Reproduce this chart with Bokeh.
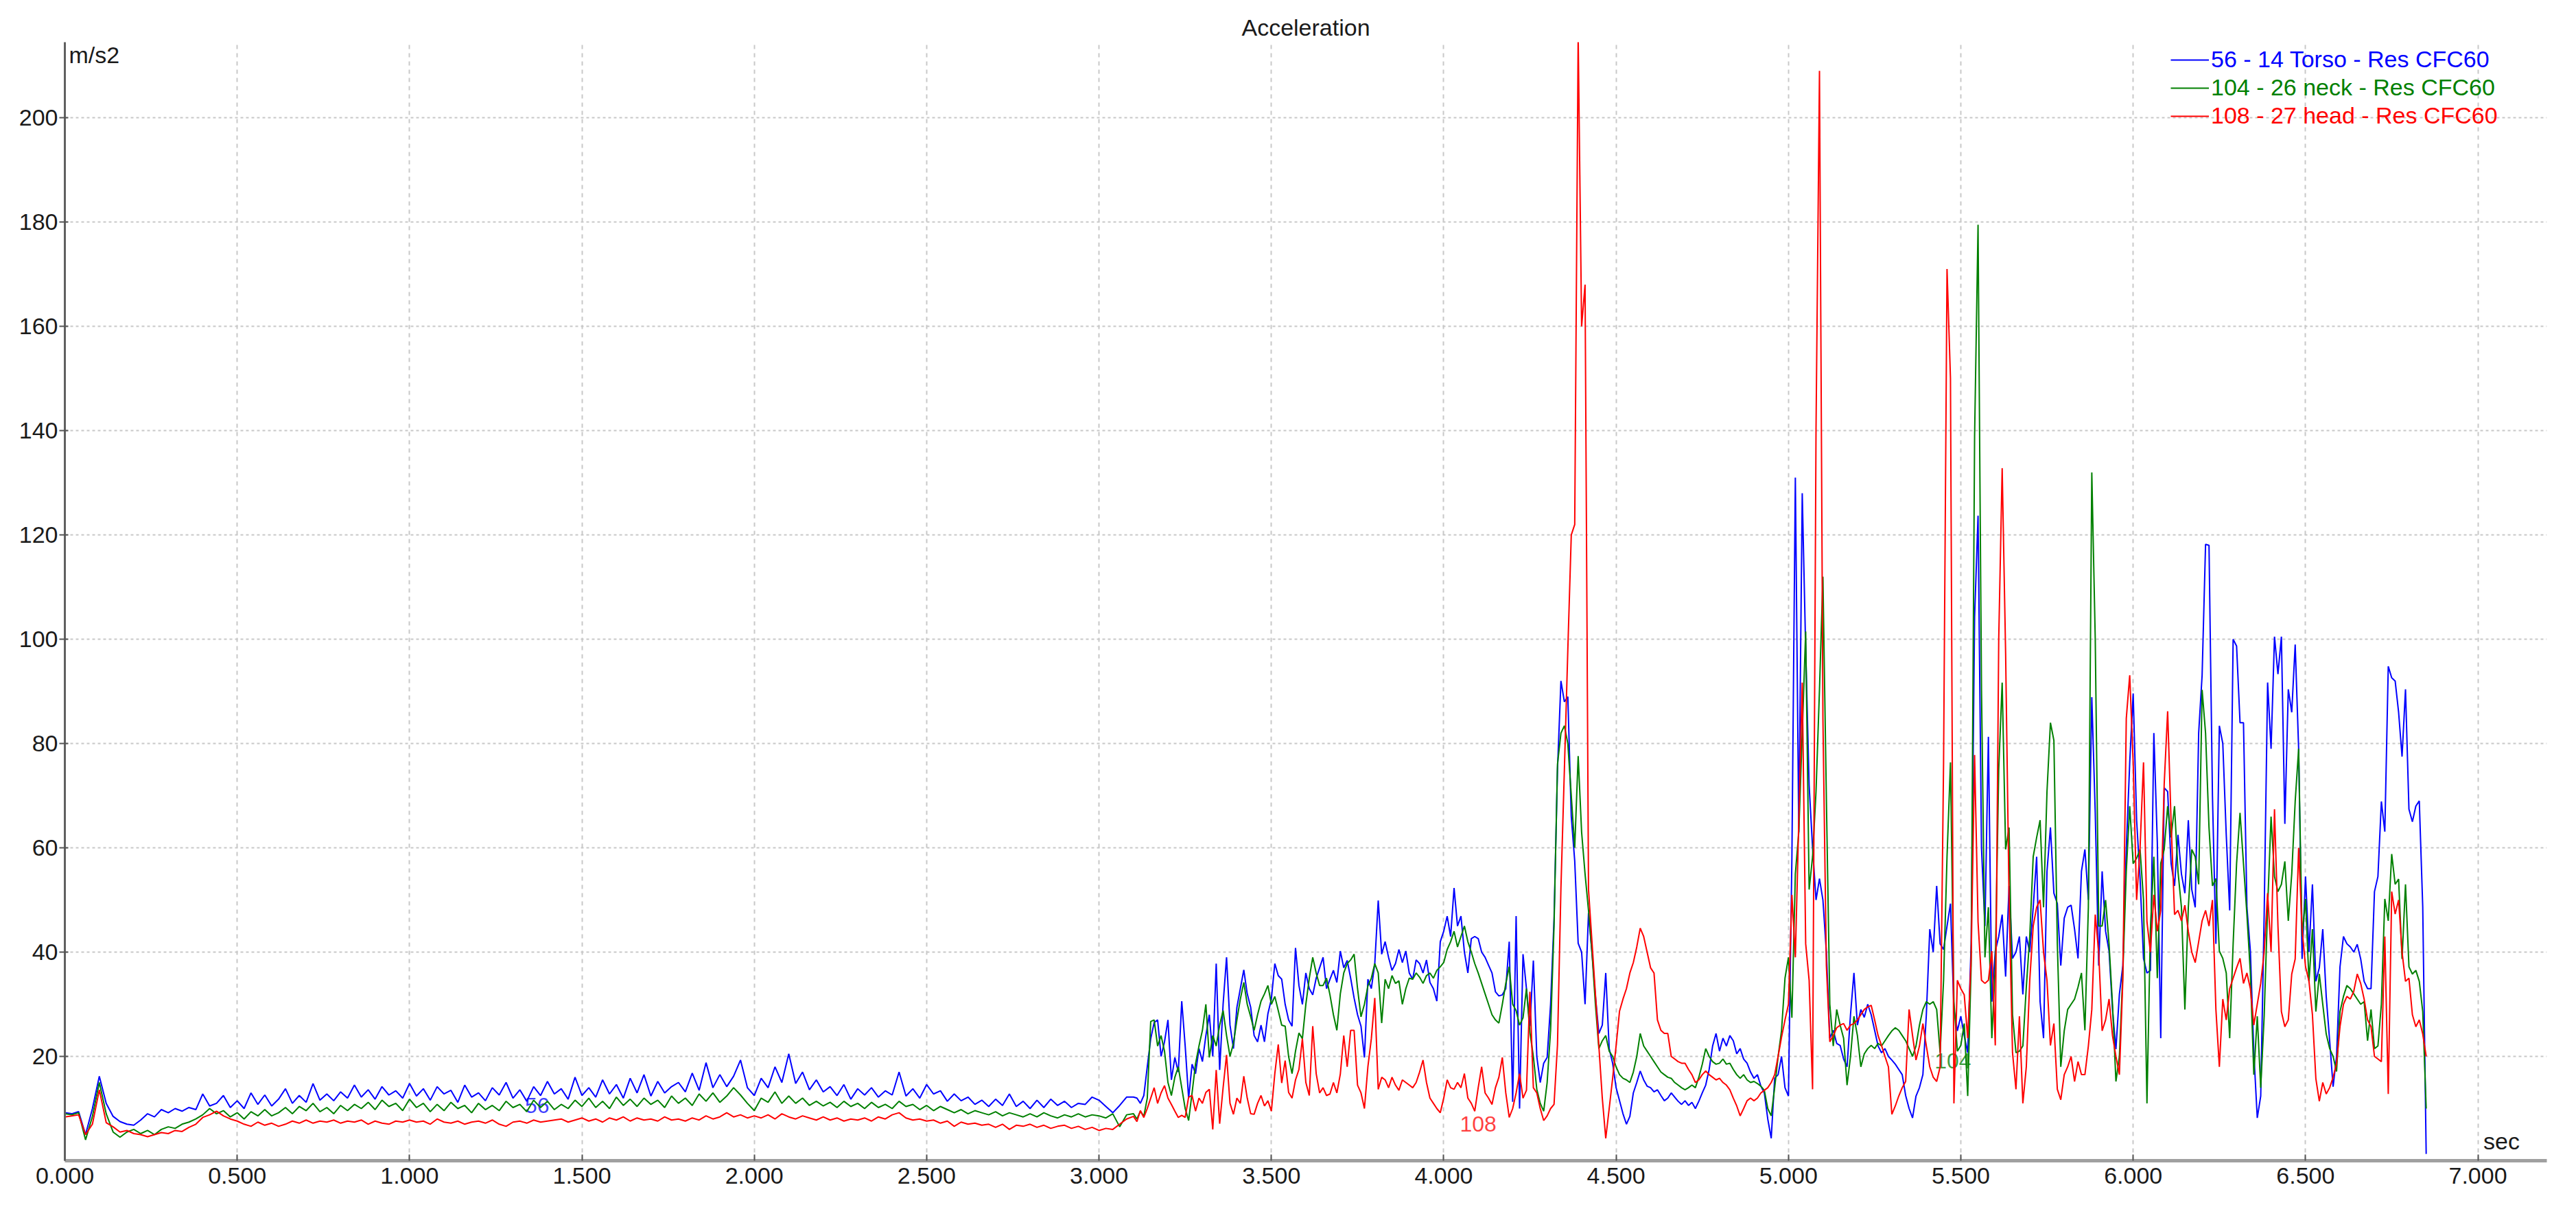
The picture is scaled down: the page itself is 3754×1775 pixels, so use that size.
import numpy as np
from bokeh.plotting import figure
from bokeh.models import (Range1d, FixedTicker, NumeralTickFormatter, Legend,
                          LegendItem, Label)
from bokeh.embed import file_html
from bokeh.resources import INLINE

# series names (legend)
name_blue = "56 - 14 Torso - Res CFC60"
name_green = "104 - 26 neck - Res CFC60"
name_red = "108 - 27 head - Res CFC60"

# 0.000 .. 3.080 s, one value every 0.02 s (m/s2)
blue_quiet = [
    9.2, 9.0, 9.4, 5.0, 10.0, 16.2, 11.0, 8.5, 7.5, 7.0,
    6.8, 7.8, 9.0, 8.4, 9.8, 9.2, 10.0, 9.5, 10.2, 9.8,
    12.8, 10.5, 11.0, 12.5, 10.2, 11.5, 10.0, 13.0, 10.8, 12.6,
    10.5, 11.8, 13.8, 11.0, 12.5, 11.2, 14.8, 11.6, 12.8, 11.5,
    13.2, 12.0, 14.5, 12.2, 13.6, 11.8, 14.2, 12.6, 13.4, 12.0,
    14.8, 12.4, 13.8, 11.6, 14.2, 12.8, 13.5, 11.2, 14.5, 12.2,
    13.0, 11.5, 14.0, 12.6, 15.0, 12.0, 13.6, 11.4, 14.2, 12.5,
    15.2, 12.8, 13.8, 11.8, 16.0, 12.5, 14.0, 12.2, 15.5, 12.8,
    14.6, 12.0, 15.8, 13.0, 16.5, 12.4, 15.2, 13.0, 14.2, 15.0,
    13.2, 16.8, 13.5, 18.8, 14.0, 16.5, 14.2, 16.2, 19.3, 14.0,
    12.5, 15.8, 14.0, 18.0, 15.0, 20.5, 14.8, 17.0, 13.6, 15.5,
    13.2, 14.2, 12.5, 14.6, 11.8, 13.8, 12.6, 14.0, 12.2, 13.4,
    12.6, 17.0, 12.4, 13.8, 12.0, 14.6, 12.8, 13.4, 11.4, 12.8,
    11.5, 12.2, 10.8, 11.6, 10.4, 11.8, 10.6, 12.8, 10.4, 11.4,
    10.0, 11.6, 10.2, 11.8, 10.6, 11.4, 10.2, 11.0, 10.8, 12.2,
    11.6, 10.4, 9.2, 10.6, 12.2,
]
green_quiet = [
    9.0, 8.8, 9.2, 4.0, 8.5, 15.0, 9.0, 5.5, 4.5, 5.5,
    6.0, 5.2, 5.8, 5.0, 6.0, 6.5, 6.2, 7.0, 7.4, 8.0,
    8.8, 10.0, 9.0, 9.6, 8.4, 9.2, 8.0, 9.4, 8.6, 9.8,
    8.6, 9.2, 10.2, 9.0, 10.4, 9.6, 11.0, 9.4, 10.2, 9.0,
    10.6, 9.6, 10.8, 10.0, 11.2, 9.8, 11.6, 10.4, 11.0, 9.6,
    11.8, 10.2, 11.0, 9.4, 10.8, 9.6, 11.2, 10.0, 10.6, 9.2,
    11.0, 9.8, 10.6, 9.6, 11.4, 10.2, 10.8, 9.4, 11.6, 10.2,
    11.4, 9.8, 10.8, 10.0, 11.6, 10.4, 12.0, 10.2, 11.4, 10.0,
    12.2, 10.6, 11.8, 10.4, 12.0, 10.8, 11.6, 10.2, 12.4, 11.0,
    12.0, 10.6, 12.8, 11.4, 13.0, 11.2, 12.4, 14.0, 12.6, 11.0,
    9.6, 12.0, 11.2, 13.2, 11.0, 12.4, 11.0, 12.0, 10.6, 11.4,
    10.5, 11.2, 10.2, 11.4, 10.4, 11.0, 10.0, 11.2, 10.2, 10.8,
    10.0, 11.4, 10.4, 10.8, 9.8, 10.6, 9.6, 10.4, 9.8, 9.2,
    9.8, 9.0, 9.6, 9.2, 8.8, 9.4, 8.6, 9.2, 8.8, 8.4,
    9.0, 8.4, 9.2, 8.6, 8.2, 8.8, 8.4, 9.0, 8.4, 8.8,
    8.6, 8.2, 9.0, 6.5, 8.8,
]
red_quiet = [
    8.4, 8.6, 8.8, 5.0, 7.0, 13.6, 7.3, 6.5, 5.5, 5.8,
    5.2, 5.0, 4.6, 5.0, 5.4, 5.2, 5.8, 5.6, 6.4, 7.0,
    8.3, 8.8, 9.5, 8.6, 8.0, 7.6, 7.0, 6.6, 7.4, 6.8,
    7.2, 6.6, 7.0, 7.6, 7.2, 7.8, 7.2, 7.6, 7.4, 7.8,
    7.2, 7.6, 7.4, 7.8, 7.0, 7.6, 7.2, 7.0, 7.6, 7.4,
    7.8, 7.4, 7.6, 7.0, 8.0, 7.4, 7.2, 7.6, 7.0, 7.4,
    7.6, 7.2, 7.8, 7.0, 6.6, 7.4, 7.6, 7.2, 7.8, 7.4,
    7.6, 7.8, 8.0, 7.4, 7.8, 8.2, 7.6, 8.0, 7.4, 8.2,
    7.8, 8.4, 7.6, 8.2, 7.8, 8.0, 7.6, 8.4, 7.8, 8.0,
    7.6, 8.2, 7.8, 8.6, 8.0, 8.4, 9.2, 8.4, 8.8, 8.2,
    8.6, 8.2, 8.8, 8.0, 9.0, 8.4, 8.0, 8.6, 8.2, 7.8,
    8.4, 7.8, 8.2, 7.6, 8.0, 7.8, 8.2, 7.6, 8.4, 8.0,
    8.8, 9.2, 8.2, 7.8, 8.0, 7.6, 7.8, 7.2, 7.6, 6.6,
    7.4, 7.0, 7.2, 6.8, 7.0, 6.4, 7.0, 6.0, 6.8, 6.6,
    7.0, 6.4, 6.8, 6.2, 6.6, 6.8, 6.2, 6.6, 6.0, 6.4,
    5.8, 6.2, 6.0, 7.0, 8.0,
]

# 3.10 .. 6.85 s, one value every 0.01 s (m/s2)
blue_active = [
    12.2, 12.0, 11.0, 12.5, 18.0, 23.4, 26.5, 27.0, 20.0, 22.8,
    27.0, 15.5, 19.8, 17.0, 30.6, 22.0, 12.0, 18.5, 16.7, 21.5,
    19.0, 24.0, 28.0, 20.0, 37.8, 17.4, 30.0, 39.0, 26.0, 21.5,
    29.4, 33.0, 36.6, 32.0, 29.4, 24.0, 22.8, 26.0, 22.8, 28.2,
    31.0, 37.8, 35.5, 34.8, 30.0, 27.0, 25.8, 40.8, 33.6, 30.0,
    36.0, 33.0, 31.8, 35.0, 37.0, 39.0, 33.0, 34.8, 36.5, 34.2,
    40.2, 37.0, 38.4, 35.0, 31.2, 28.0, 25.8, 19.8, 34.8, 33.0,
    37.8, 49.9, 39.6, 42.0, 39.0, 36.5, 37.8, 40.5, 38.0, 40.2,
    36.0, 34.8, 38.5, 37.8, 36.0, 38.5, 34.2, 33.0, 30.6, 42.0,
    44.0, 46.9, 43.0, 52.3, 45.0, 46.9, 40.0, 36.0, 42.6, 43.0,
    42.6, 40.0, 39.0, 37.5, 36.0, 32.4, 31.6, 31.8, 33.0, 42.0,
    11.3, 46.9, 10.0, 39.6, 33.0, 25.8, 38.4, 20.0, 15.0, 18.7,
    19.8, 30.0, 46.3, 75.0, 92.0, 88.0, 89.0, 66.0, 57.5, 41.7,
    40.0, 30.0, 47.5, 40.0, 31.6, 24.4, 26.0, 36.0, 21.5, 18.7,
    14.0, 11.5, 9.0, 7.0, 8.5, 13.0, 15.0, 17.2, 15.5, 14.3,
    14.0, 13.2, 13.6, 12.5, 11.5, 12.0, 13.0, 12.2, 11.4, 10.8,
    11.5, 10.6, 11.2, 10.0, 11.4, 13.0, 14.5, 17.5, 22.0, 24.4,
    21.0, 23.5, 22.0, 24.0, 23.0, 20.5, 21.5, 19.5, 18.7, 17.0,
    15.8, 16.5, 14.3, 13.0, 8.0, 4.3, 15.8, 16.5, 20.0, 14.0,
    12.4, 58.0, 131.0, 63.0, 128.0, 98.0, 72.0, 60.0, 50.0, 54.1,
    50.0, 40.0, 23.5, 25.0, 22.5, 22.1, 19.5, 18.0, 28.0, 36.0,
    26.0, 29.0, 27.5, 30.0, 28.0, 25.0, 22.0, 20.7, 21.5, 20.0,
    19.3, 18.5, 17.5, 16.5, 12.5, 10.0, 8.2, 12.4, 14.0, 16.5,
    28.0, 44.4, 40.0, 52.7, 41.6, 40.5, 45.0, 49.3, 29.0, 24.9,
    27.7, 24.0, 20.7, 41.6, 104.3, 123.7, 60.0, 45.0, 81.3, 30.5,
    40.2, 43.0, 47.2, 35.3, 52.7, 38.8, 40.0, 43.0, 31.9, 43.0,
    40.0, 48.6, 58.3, 30.5, 23.5, 55.5, 63.9, 51.3, 49.3, 37.4,
    46.5, 48.6, 49.0, 44.4, 38.8, 55.5, 59.7, 50.0, 88.9, 66.7,
    37.4, 55.5, 44.0, 40.2, 29.0, 21.4, 31.9, 37.4, 59.7, 76.4,
    89.6, 65.3, 54.1, 38.8, 36.0, 36.5, 82.0, 61.1, 23.5, 71.5,
    70.8, 57.0, 52.7, 62.5, 55.0, 51.3, 65.3, 52.0, 48.6, 82.0,
    93.1, 118.2, 118.0, 70.0, 41.6, 83.4, 80.0, 62.5, 48.0, 100.0,
    98.7, 84.0, 84.0, 48.6, 40.2, 20.7, 8.2, 12.4, 47.2, 91.7,
    79.0, 100.5, 93.3, 100.5, 64.6, 90.4, 86.0, 99.0, 79.0, 38.7,
    54.5, 40.0, 53.0, 34.4, 37.0, 44.4, 31.5, 23.0, 14.2, 20.0,
    37.2, 43.0, 41.6, 41.0, 40.0, 41.5, 38.7, 34.4, 33.0, 33.0,
    51.6, 54.5, 68.9, 63.1, 94.8, 92.6, 92.0, 86.0, 77.5, 90.4,
    67.4, 65.0, 68.0, 69.0, 48.7, 1.3,
]
green_active = [
    9.0, 8.0, 9.5, 8.5, 12.0, 26.7, 27.0, 22.0, 24.0, 21.0,
    15.0, 12.5, 16.0, 18.0, 14.0, 10.0, 7.7, 13.0, 18.6, 22.0,
    25.0, 30.0, 19.8, 24.0, 22.0, 26.0, 28.8, 24.0, 20.0, 22.5,
    27.0, 31.0, 34.2, 30.0, 27.6, 25.0, 28.0, 30.6, 32.0, 33.6,
    30.0, 31.5, 28.8, 26.0, 25.8, 20.0, 16.7, 21.0, 24.5, 23.4,
    30.0, 35.0, 39.0, 36.0, 33.6, 33.6, 35.0, 31.8, 28.0, 25.0,
    32.0, 36.0, 37.8, 38.5, 39.6, 33.0, 27.6, 30.0, 33.5, 35.0,
    37.8, 36.0, 26.4, 34.8, 33.0, 35.5, 34.0, 34.5, 30.0, 33.0,
    35.0, 34.8, 36.0, 35.2, 34.0, 35.5, 36.0, 35.0, 36.5, 37.2,
    38.0, 40.5, 42.0, 44.0, 41.0, 43.0, 45.0, 42.0, 40.0, 37.8,
    36.0, 34.0, 32.0, 30.0, 28.0, 27.0, 26.4, 30.0, 34.0, 37.2,
    30.0, 28.8, 26.0, 27.4, 33.0, 24.6, 20.0, 13.7, 11.0, 9.5,
    15.0, 25.0, 45.0, 76.0, 82.0, 83.4, 80.0, 70.0, 60.0, 77.6,
    63.0, 55.0, 48.0, 40.0, 30.0, 21.5, 23.0, 24.0, 21.0, 20.0,
    18.0, 16.5, 15.8, 15.5, 15.0, 17.0, 20.0, 24.4, 22.0, 21.0,
    20.0, 19.0, 18.0, 17.0, 16.5, 16.0, 15.8, 15.0, 14.5, 14.0,
    13.6, 14.0, 14.5, 14.0, 16.0, 18.5, 21.5, 20.0, 19.0, 18.5,
    18.7, 19.5, 18.5, 18.7, 17.5, 16.5, 15.8, 16.5, 15.5, 15.0,
    15.2, 14.8, 14.3, 13.5, 10.0, 8.6, 14.0, 20.0, 25.0, 35.0,
    39.0, 27.4, 55.0, 63.0, 82.0, 101.5, 52.0, 58.3, 70.8, 90.3,
    112.0, 69.4, 30.0, 22.0, 29.0, 26.0, 23.5, 14.5, 20.0, 27.7,
    24.0, 18.0, 20.5, 21.5, 22.1, 21.5, 22.5, 22.0, 23.0, 24.0,
    24.9, 25.5, 25.0, 24.0, 23.0, 21.5, 20.0, 22.0, 26.0, 29.0,
    30.5, 30.0, 30.5, 29.0, 20.7, 34.6, 58.3, 76.4, 30.5, 21.0,
    22.1, 26.3, 12.4, 37.4, 139.0, 179.5, 90.3, 39.0, 48.6, 23.5,
    37.4, 75.0, 91.7, 59.7, 63.9, 28.0, 20.7, 21.0, 22.0, 33.3,
    43.0, 58.3, 62.0, 65.3, 48.6, 70.8, 84.0, 80.6, 41.6, 18.0,
    24.9, 29.0, 30.0, 31.0, 33.3, 36.0, 25.0, 48.6, 132.0, 100.0,
    45.0, 45.0, 50.0, 41.6, 30.0, 15.2, 20.0, 36.0, 55.5, 68.0,
    57.0, 58.0, 59.7, 50.0, 11.0, 44.4, 58.3, 35.0, 57.0, 59.7,
    68.0, 62.0, 68.0, 55.5, 48.6, 29.0, 48.6, 59.7, 58.3, 53.0,
    90.3, 82.0, 63.9, 52.7, 54.1, 40.2, 38.8, 36.0, 23.5, 41.6,
    57.0, 66.7, 57.0, 47.2, 36.0, 16.5, 27.7, 14.0, 27.7, 48.6,
    66.0, 54.5, 51.6, 53.0, 57.4, 46.0, 55.0, 68.9, 79.0, 43.0,
    50.2, 34.4, 44.4, 28.6, 35.8, 30.0, 24.3, 21.5, 20.0, 17.1,
    28.6, 31.5, 33.6, 33.0, 32.0, 31.0, 30.0, 30.5, 23.0, 29.0,
    21.5, 22.0, 30.0, 50.2, 46.0, 58.8, 53.0, 54.0, 38.7, 53.0,
    37.2, 35.8, 36.5, 34.4, 28.6, 10.0,
]
red_active = [
    8.5, 7.5, 9.6, 8.3, 10.0, 12.0, 14.0, 11.0, 13.0, 14.4,
    12.0, 10.8, 9.5, 8.3, 8.7, 8.3, 12.2, 12.5, 9.5, 12.0,
    11.0, 13.1, 13.7, 6.0, 17.4, 7.1, 14.0, 20.3, 11.0, 8.9,
    12.0, 11.0, 16.2, 12.0, 9.0, 8.9, 11.0, 12.5, 10.5, 11.5,
    9.5, 16.7, 22.3, 14.9, 19.2, 13.1, 12.0, 15.5, 17.5, 23.4,
    15.0, 12.5, 25.8, 16.7, 13.0, 14.0, 12.5, 12.8, 15.0, 13.0,
    16.6, 24.0, 18.0, 25.0, 25.0, 14.5, 13.0, 10.0, 18.0, 23.4,
    31.2, 13.7, 16.0, 15.5, 14.0, 16.0, 14.5, 13.5, 15.5, 15.0,
    14.5, 14.0, 15.0, 17.0, 19.3, 15.0, 12.0, 11.0, 10.0, 9.2,
    12.0, 15.5, 14.0, 13.7, 15.0, 14.0, 16.7, 12.0, 11.0, 9.5,
    14.0, 18.0, 13.0, 12.0, 10.8, 14.0, 16.0, 19.8, 13.0, 8.3,
    10.0, 13.0, 16.7, 12.0, 13.5, 32.4, 14.0, 13.0, 10.0, 7.7,
    8.6, 10.0, 10.8, 22.2, 52.3, 75.0, 98.0, 120.0, 122.0, 216.0,
    160.0, 168.0, 52.0, 42.0, 32.0, 22.0, 12.0, 4.3, 10.0, 15.8,
    22.0, 28.7, 31.0, 33.0, 36.0, 38.0, 41.0, 44.6, 43.0, 40.0,
    37.0, 36.0, 27.0, 25.0, 24.4, 24.4, 20.0, 19.5, 19.0, 18.7,
    18.7, 17.5, 16.5, 15.0, 15.5, 16.5, 17.2, 16.5, 16.0, 15.5,
    15.8, 15.0, 14.5, 13.6, 12.0, 10.5, 8.6, 10.0, 11.5, 12.0,
    11.5, 12.0, 13.0, 13.5, 14.0, 15.0, 16.5, 20.0, 23.7, 27.0,
    30.0, 51.0, 39.0, 65.3, 91.7, 41.6, 34.6, 13.7, 140.4, 209.0,
    84.8, 37.4, 22.8, 24.0, 25.5, 26.0, 26.3, 25.0, 26.0, 26.3,
    27.0, 28.0, 29.0, 29.5, 29.8, 27.0, 24.0, 22.1, 20.0, 18.0,
    8.9, 10.5, 12.4, 14.0, 15.2, 29.0, 24.0, 19.3, 22.0, 26.3,
    22.0, 18.0, 16.0, 15.2, 18.0, 76.4, 171.0, 150.0, 11.0, 34.6,
    33.0, 31.8, 23.5, 38.8, 77.8, 45.8, 34.6, 34.0, 34.6, 40.2,
    22.1, 100.0, 132.8, 97.3, 50.0, 20.7, 13.7, 27.7, 11.0, 18.0,
    34.6, 45.0, 48.6, 50.0, 40.0, 34.6, 22.1, 26.3, 13.7, 11.7,
    16.5, 18.0, 20.0, 15.2, 19.0, 16.5, 16.5, 22.0, 29.0, 47.2,
    40.0, 24.9, 27.0, 31.0, 24.0, 20.0, 16.5, 34.6, 84.8, 93.1,
    76.4, 50.0, 60.0, 76.4, 45.8, 40.0, 51.0, 44.0, 48.0, 72.2,
    86.2, 65.0, 47.2, 48.0, 46.0, 49.0, 44.0, 40.0, 38.0, 42.0,
    46.0, 48.0, 45.0, 50.0, 29.0, 18.0, 31.0, 27.0, 33.0, 35.0,
    37.0, 38.8, 34.0, 36.0, 33.0, 26.0, 30.0, 34.0, 40.0, 51.3,
    40.0, 67.4, 45.0, 28.6, 25.7, 27.0, 35.8, 38.7, 60.0, 44.4,
    37.2, 34.4, 28.0, 15.7, 11.4, 15.0, 12.8, 14.0, 16.0, 18.6,
    25.7, 30.0, 31.5, 31.0, 32.5, 35.8, 34.0, 31.0, 27.0, 25.7,
    20.0, 19.5, 19.0, 43.0, 12.8, 51.6, 47.3, 50.0, 40.0, 34.4,
    35.0, 28.0, 25.7, 27.0, 24.3, 20.0,
]

x_ticks = [0.0, 0.5, 1.0, 1.5, 2.0, 2.5, 3.0, 3.5, 4.0, 4.5, 5.0, 5.5, 6.0, 6.5, 7.0]
y_ticks = [20, 40, 60, 80, 100, 120, 140, 160, 180, 200]

# inline channel tags: (text, t, value)
tag_blue = ("56", 1.37, 10.6)
tag_red = ("108", 4.10, 7.1)
tag_green = ("104", 5.477, 19.2)


def series(quiet, active):
    tq = np.arange(len(quiet)) * 0.02
    ta = 3.10 + np.arange(len(active)) * 0.01
    return np.concatenate([tq, ta]), np.concatenate([quiet, active])


FONT = "Liberation Sans"

p = figure(width=3738, height=1759, x_range=Range1d(0, 7.2), y_range=Range1d(0, 214.5),
           output_backend="svg", toolbar_location=None,
           min_border_left=94, min_border_right=27, min_border_top=61, min_border_bottom=68)
p.outline_line_color = None
p.title.text = "Acceleration"
p.title.align = "center"
p.title.text_font = FONT
p.title.text_font_size = "34px"
p.title.text_font_style = "normal"
p.title.text_color = "#1a1a1a"
p.title.standoff = 6

# axes
p.xaxis.ticker = FixedTicker(ticks=x_ticks)
p.xaxis.formatter = NumeralTickFormatter(format="0.000")
p.xaxis.axis_line_color = "#a0a0a0"
p.xaxis.axis_line_width = 5
p.xaxis.major_tick_in = 9
p.xaxis.major_tick_out = 0
p.xaxis.major_tick_line_color = "#555555"
p.xaxis.major_tick_line_width = 2
p.xaxis.minor_tick_line_color = None
p.xaxis.major_label_standoff = 10
p.yaxis.ticker = FixedTicker(ticks=y_ticks)
p.yaxis.axis_line_color = "#606060"
p.yaxis.axis_line_width = 3
p.yaxis.major_tick_in = 5
p.yaxis.major_tick_out = 8
p.yaxis.major_tick_line_color = "#555555"
p.yaxis.major_tick_line_width = 2
p.yaxis.minor_tick_line_color = None
p.yaxis.major_label_standoff = 2
for ax in (p.xaxis, p.yaxis):
    ax.major_label_text_font = FONT
    ax.major_label_text_font_size = "34px"
    ax.major_label_text_color = "#1a1a1a"

p.xgrid.ticker = FixedTicker(ticks=x_ticks)
p.ygrid.ticker = FixedTicker(ticks=y_ticks)
p.xgrid.grid_line_color = "#c8c8c8"
p.xgrid.grid_line_dash = "6 6"
p.xgrid.grid_line_width = 2
p.ygrid.grid_line_color = "#c8c8c8"
p.ygrid.grid_line_dash = "4 4"
p.ygrid.grid_line_width = 2

# inline tags sit under the curves
for (txt, tx, ty), col in ((tag_blue, "#0000ff"), (tag_red, "#ff0000"), (tag_green, "#008000")):
    p.add_layout(Label(x=tx, y=ty, text=txt, text_color=col, text_alpha=0.75,
                       text_font=FONT, text_font_size="32px",
                       text_align="center", text_baseline="middle", level="underlay"))

tb, yb = series(blue_quiet, blue_active)
tg, yg = series(green_quiet, green_active)
tr, yr = series(red_quiet, red_active)
r_blue = p.line(tb, yb, line_color="#0000ff", line_width=2)
r_green = p.line(tg, yg, line_color="#008000", line_width=2)
r_red = p.line(tr, yr, line_color="#ff0000", line_width=2)

# one legend per channel so each label keeps its own colour
for name, rend, col, ly in ((name_blue, r_blue, "#0000ff", 1585),
                            (name_green, r_green, "#008000", 1544),
                            (name_red, r_red, "#ff0000", 1503)):
    lg = Legend(items=[LegendItem(label=name, renderers=[rend])], location=(3069, ly),
                label_text_color=col, label_text_font=FONT, label_text_font_size="34px",
                background_fill_alpha=0, border_line_alpha=0, padding=0, margin=0,
                spacing=0, glyph_width=56, glyph_height=20, label_standoff=3,
                label_height=20)
    p.add_layout(lg)

# units
p.add_layout(Label(x=0, y=212.0, x_offset=6, text="m/s2", text_font=FONT,
                   text_font_size="34px", text_color="#1a1a1a", text_baseline="middle"))
p.add_layout(Label(x=7.016, y=3.8, text="sec", text_font=FONT,
                   text_font_size="34px", text_color="#1a1a1a", text_baseline="middle"))

open("out.html", "w").write(file_html(p, INLINE))
